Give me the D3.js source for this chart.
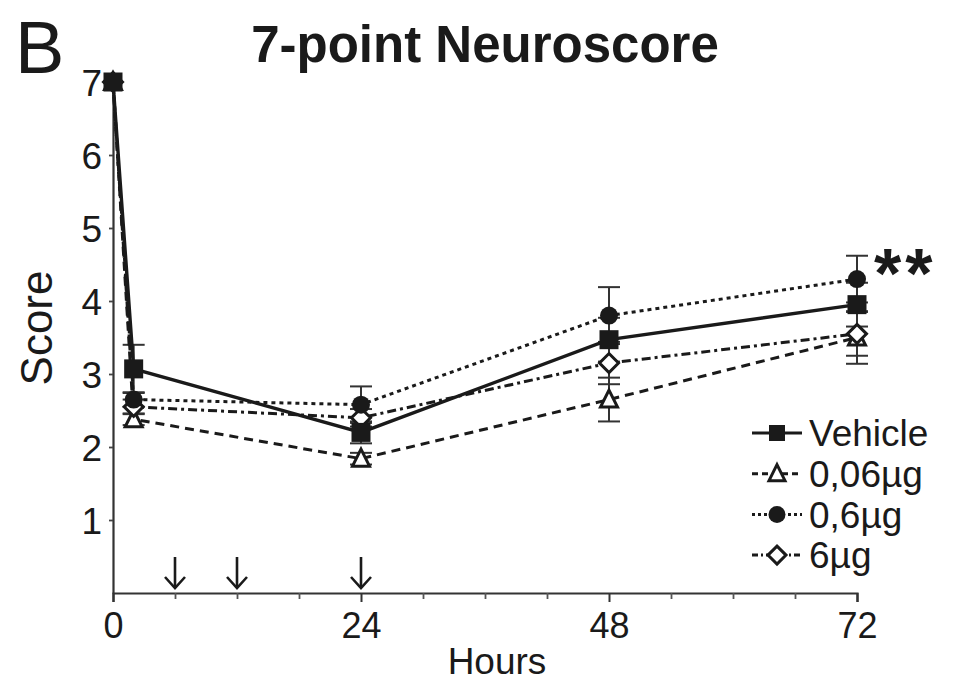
<!DOCTYPE html>
<html>
<head>
<meta charset="utf-8">
<script src="https://cdn.jsdelivr.net/npm/d3@7"></script>
<style>
  html, body { margin: 0; padding: 0; background: #fff; }
  svg text { font-family: "Liberation Sans", Arial, Helvetica, sans-serif; fill: #1a1a1a; }
</style>
</head>
<body>
<svg id="chart" width="953" height="684"></svg>
<script>
// ---- data ----
const hours = [0, 2, 24, 48, 72];
const seriesNames = ["Vehicle", "0,06µg", "0,6µg", "6µg"];
const vehicle   = [7, 3.07, 2.20, 3.47, 3.95];
const dose006   = [7, 2.38, 1.84, 2.65, 3.50];
const dose06    = [7, 2.65, 2.58, 3.80, 4.30];
const dose6     = [7, 2.55, 2.40, 3.15, 3.55];
const vehicleErr = [0, 0.33, 0.15, 0.30, 0.30];
const dose006Err = [0, 0.08, 0.08, 0.30, 0.36];
const dose06Err  = [0, 0.10, 0.25, 0.39, 0.32];
const dose6Err   = [0, 0.10, 0.12, 0.29, 0.30];
const xMajorTicks = [0, 24, 48, 72];
const xMinorTicks = [6, 12, 18, 30, 36, 42, 54, 60, 66];
const yTicks = [1, 2, 3, 4, 5, 6, 7];
const arrowHours = [6, 12, 24];
const title = "7-point Neuroscore";
const panelLabel = "B";
const xLabel = "Hours";
const yLabel = "Score";
const significance = "**";

// ---- layout ----
const svg = d3.select("#chart");
const x = d3.scaleLinear().domain([0, 72]).range([113, 857]);
const y = d3.scaleLinear().domain([0, 7]).range([593, 82]);
const ink = "#1a1a1a";

const series = [
  { name: seriesNames[1], values: dose006, err: dose006Err, marker: "triangle", dash: "9,6" },
  { name: seriesNames[3], values: dose6,   err: dose6Err,   marker: "diamond",  dash: "9,4,3,4" },
  { name: seriesNames[2], values: dose06,  err: dose06Err,  marker: "circle",   dash: "4,4" },
  { name: seriesNames[0], values: vehicle, err: vehicleErr, marker: "square",   dash: null }
];

// axes
const xAxis = svg.append("g").attr("transform", `translate(0,${y(0)})`)
  .call(d3.axisBottom(x).tickValues(xMajorTicks).tickSize(9).tickPadding(10).tickFormat(d3.format("d")));
xAxis.selectAll("text").attr("font-size", 36).attr("dy", "0.71em");
xAxis.select(".domain").attr("stroke", "#333").attr("stroke-width", 2.2);
xAxis.selectAll(".tick line").attr("stroke", "#333").attr("stroke-width", 2);
const xMinor = svg.append("g").attr("transform", `translate(0,${y(0)})`)
  .call(d3.axisBottom(x).tickValues(xMinorTicks).tickSize(6).tickFormat(""));
xMinor.select(".domain").remove();
xMinor.selectAll(".tick line").attr("stroke", "#555").attr("stroke-width", 1.8);

const yAxis = svg.append("g").attr("transform", `translate(${x(0)},0)`)
  .call(d3.axisLeft(y).tickValues(yTicks).tickSize(4).tickPadding(7).tickSizeOuter(0).tickFormat(d3.format("d")));
yAxis.selectAll("text").attr("font-size", 37).attr("dy", "0.36em");
yAxis.select(".domain").attr("stroke", "#333").attr("stroke-width", 2.2);
yAxis.selectAll(".tick line").attr("stroke", "#444").attr("stroke-width", 1.8);

// arrows
const arrows = svg.append("g");
arrowHours.forEach(h => {
  const cx = x(h);
  arrows.append("line").attr("x1", cx).attr("x2", cx).attr("y1", y(0) - 36).attr("y2", y(0) - 6)
    .attr("stroke", ink).attr("stroke-width", 2.6);
  arrows.append("path").attr("d", `M${cx - 10},${y(0) - 16} L${cx},${y(0) - 5} L${cx + 10},${y(0) - 16}`)
    .attr("fill", "none").attr("stroke", ink).attr("stroke-width", 2.6);
});

// error bars
const eb = svg.append("g");
series.forEach(s => {
  s.values.forEach((v, i) => {
    const e = s.err[i];
    if (!e) return;
    const cx = x(hours[i]);
    eb.append("line").attr("x1", cx).attr("x2", cx).attr("y1", y(v - e)).attr("y2", y(v + e))
      .attr("stroke", "#333").attr("stroke-width", 2);
    [v - e, v + e].forEach(t => {
      eb.append("line").attr("x1", cx - 11).attr("x2", cx + 11).attr("y1", y(t)).attr("y2", y(t))
        .attr("stroke", "#333").attr("stroke-width", 2);
    });
  });
});

// lines
const line = d3.line().x((d, i) => x(hours[i])).y(d => y(d));
series.forEach(s => {
  svg.append("path").datum(s.values).attr("d", line)
    .attr("fill", "none").attr("stroke", ink)
    .attr("stroke-width", s.dash ? 3 : 3.4)
    .attr("stroke-dasharray", s.dash);
});

// markers
function drawMarker(g, type, cx, cy, size) {
  const r = size / 2;
  if (type === "square") {
    g.append("rect").attr("x", cx - r).attr("y", cy - r).attr("width", size).attr("height", size)
      .attr("fill", ink);
  } else if (type === "circle") {
    g.append("circle").attr("cx", cx).attr("cy", cy).attr("r", r + 0.5).attr("fill", ink);
  } else if (type === "triangle") {
    g.append("path").attr("d", `M${cx},${cy - r - 1} L${cx + r},${cy + r - 1} L${cx - r},${cy + r - 1}Z`)
      .attr("fill", "#fff").attr("stroke", ink).attr("stroke-width", 3);
  } else if (type === "diamond") {
    g.append("path").attr("d", `M${cx},${cy - r - 1} L${cx + r + 1},${cy} L${cx},${cy + r + 1} L${cx - r - 1},${cy}Z`)
      .attr("fill", "#fff").attr("stroke", ink).attr("stroke-width", 3);
  }
}
const mk = svg.append("g");
series.forEach(s => {
  s.values.forEach((v, i) => drawMarker(mk, s.marker, x(hours[i]), y(v), s.marker === "square" ? 19 : 17));
});

// legend
const legendOrder = [
  { name: seriesNames[0], marker: "square", dash: null },
  { name: seriesNames[1], marker: "triangle", dash: "6,4" },
  { name: seriesNames[2], marker: "circle", dash: "3,3" },
  { name: seriesNames[3], marker: "diamond", dash: "6,3,2,3" }
];
const lg = svg.append("g");
legendOrder.forEach((d, i) => {
  const cy = 433 + i * 40.7;
  lg.append("line").attr("x1", 752).attr("x2", 802).attr("y1", cy).attr("y2", cy)
    .attr("stroke", ink).attr("stroke-width", 3).attr("stroke-dasharray", d.dash);
  drawMarker(lg, d.marker, 777, cy, 16);
  lg.append("text").attr("x", 809).attr("y", cy).attr("dy", "0.36em").attr("font-size", 37).text(d.name);
});

// texts
svg.append("text").attr("x", 485).attr("y", 62).attr("text-anchor", "middle")
  .attr("font-size", 51).attr("font-weight", "bold").text(title);
svg.append("text").attr("x", 15).attr("y", 73).attr("font-size", 74).text(panelLabel);
svg.append("text").attr("x", 497).attr("y", 674).attr("text-anchor", "middle").attr("font-size", 37).text(xLabel);
svg.append("text").attr("transform", "translate(52,328) rotate(-90)").attr("text-anchor", "middle")
  .attr("font-size", 44).text(yLabel);
svg.append("text").attr("x", 874).attr("y", 298).attr("font-size", 70).attr("font-weight", "bold")
  .attr("letter-spacing", 4).text(significance);
</script>
</body>
</html>
